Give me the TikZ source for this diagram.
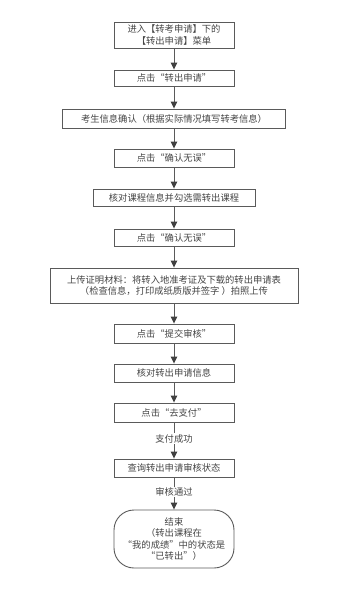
\documentclass[tikz,border=0pt]{standalone}
\usepackage{fontspec}
\setmainfont{Noto Sans CJK SC}
\usetikzlibrary{arrows.meta}
\definecolor{txt}{HTML}{444444}
\definecolor{ln}{HTML}{5A5A5A}
\begin{document}
\begin{tikzpicture}[x=1pt,y=1pt,
  box/.style={draw=ln, line width=0.9pt, rectangle, inner sep=0pt, text=txt, font=\fontsize{9.3}{11.5}\selectfont, align=center},
  endbox/.style={box, rounded corners=20pt},
  lbl/.style={fill=white, text=txt, inner sep=1pt, font=\fontsize{9.3}{11}\selectfont},
  conn/.style={draw=ln, line width=0.9pt, -{Triangle[length=7pt,width=6.5pt,color=black!75]}}]
\useasboundingbox (0,0) rectangle (360,-592);
\node[box, minimum width=120pt, minimum height=26pt] (b1) at (174,-35) {进入【转考申请】下的\\【转出申请】菜单};
\node[box, minimum width=120pt, minimum height=16pt] (b2) at (174,-78) {点击“转出申请”};
\node[box, minimum width=223pt, minimum height=19pt] (b3) at (174,-118.5) {考生信息确认（根据实际情况填写转考信息）};
\node[box, minimum width=120pt, minimum height=18pt] (b4) at (174,-158) {点击“确认无误”};
\node[box, minimum width=162pt, minimum height=17pt] (b5) at (174,-197.5) {核对课程信息并勾选需转出课程};
\node[box, minimum width=120pt, minimum height=17pt] (b6) at (174,-237.5) {点击“确认无误”};
\node[box, minimum width=248pt, minimum height=35pt] (b7) at (174,-285.5) {上传证明材料：将转入地准考证及下载的转出申请表\\（检查信息，打印成纸质版并签字 ）拍照上传};
\node[box, minimum width=120pt, minimum height=19pt] (b8) at (174,-333.5) {点击“提交审核”};
\node[box, minimum width=120pt, minimum height=18pt] (b9) at (174,-373) {核对转出申请信息};
\node[box, minimum width=120pt, minimum height=19pt] (b10) at (174,-412.5) {点击“去支付”};
\node[box, minimum width=120pt, minimum height=18pt] (b11) at (174,-468) {查询转出申请审核状态};
\node[endbox, minimum width=120pt, minimum height=58pt] (e) at (174,-539) {结束\\（转出课程在\\“我的成绩”中的状态是\\“已转出”）};
\draw[conn] (b1) -- (b2);
\draw[conn] (b2) -- (b3);
\draw[conn] (b3) -- (b4);
\draw[conn] (b4) -- (b5);
\draw[conn] (b5) -- (b6);
\draw[conn] (b6) -- (b7);
\draw[conn] (b7) -- (b8);
\draw[conn] (b8) -- (b9);
\draw[conn] (b9) -- (b10);
\draw[conn] (b10) -- node[lbl, pos=0.45] {支付成功} (b11);
\draw[conn] (b11) -- node[lbl, pos=0.45] {审核通过} (e);
\end{tikzpicture}
\end{document}
